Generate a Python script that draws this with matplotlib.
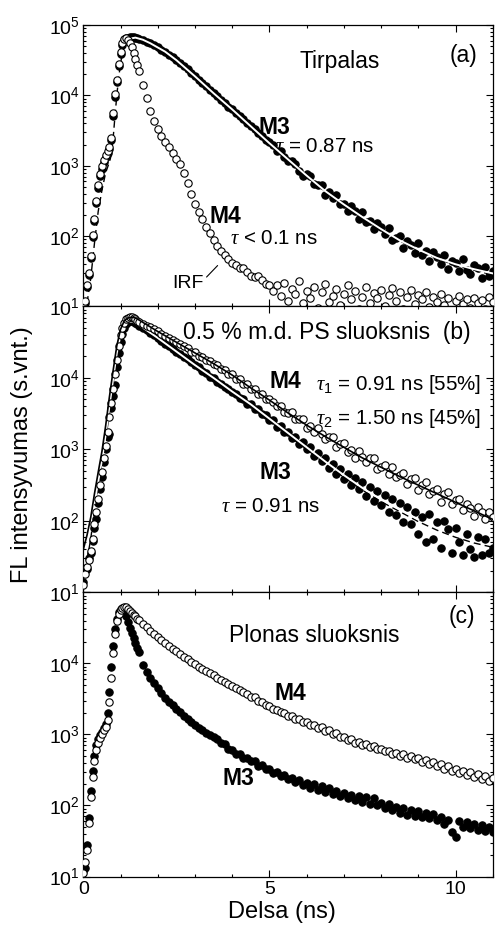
import numpy as np
import matplotlib
matplotlib.use("Agg")
import matplotlib.pyplot as plt
from matplotlib.ticker import FixedLocator, LogLocator, NullFormatter, MultipleLocator

plt.rcParams['font.family'] = ['Liberation Sans', 'DejaVu Sans']
plt.rcParams['mathtext.fontset'] = 'custom'
plt.rcParams['mathtext.rm'] = 'Liberation Sans'
plt.rcParams['mathtext.it'] = 'Liberation Serif:italic'
plt.rcParams['mathtext.bf'] = 'Liberation Sans:bold'

# ---------------- time channels (ns) ----------------
t_rise = np.round(np.arange(0.0, 1.501, 0.05), 2)   # 31 channels
t_tail = np.round(np.arange(1.6, 11.001, 0.1), 1)   # 95 channels
t = np.concatenate([t_rise, t_tail])

# ---------------- data: log10(intensity) ----------------
# Panel (a) Tirpalas
a_m4_rise = [1.00, 1.08, 1.30, 1.48, 1.72, 2.02, 2.25, 2.50, 2.72, 2.88, 2.99, 3.08, 3.15, 3.21, 3.27, 3.40,
             3.75, 4.02, 4.22, 4.45, 4.62, 4.74, 4.80, 4.81, 4.79, 4.74, 4.68, 4.60, 4.52, 4.43, 4.34]
a_m4_tail = [4.14, 3.96, 3.78, 3.64, 3.52, 3.42, 3.34, 3.26, 3.18, 3.10, 3.02, 2.90, 2.76, 2.60, 2.46, 2.34,
             2.24, 2.13, 2.04, 1.95, 1.86, 1.79, 1.73, 1.68, 1.62, 1.59, 1.55, 1.55, 1.49, 1.44, 1.42, 1.43,
             1.38, 1.32, 1.30,
             1.22, 1.30, 1.15, 1.33, 1.08, 1.25, 1.18, 1.36, 1.05, 1.22, 1.12, 1.28, 0.98, 1.20, 1.32, 1.06,
             1.15, 1.25, 1.02, 1.18, 1.30, 1.10, 1.22, 0.96, 1.14, 1.27, 1.05, 1.19, 1.12, 1.24, 1.00, 1.16,
             1.26, 1.08, 1.20, 0.97, 1.13, 1.23, 1.04, 1.16, 1.10, 1.21, 0.99, 1.14, 1.06, 1.18, 1.02, 1.12,
             0.95, 1.08, 1.15, 1.03, 1.10, 0.98, 1.12, 1.05, 1.09, 0.97, 1.14, 1.06]
a_m3_rise = [0.97, 1.05, 1.27, 1.45, 1.69, 1.99, 2.22, 2.47, 2.69, 2.85, 2.96, 3.05, 3.12, 3.18, 3.24, 3.36,
             3.70, 3.98, 4.19, 4.42, 4.59, 4.71, 4.78, 4.81, 4.82, 4.83, 4.83, 4.83, 4.82, 4.81, 4.80]
a_m3_tail = [4.78, 4.76, 4.74, 4.71, 4.68, 4.65, 4.62, 4.58, 4.54, 4.50, 4.46, 4.41, 4.37, 4.32, 4.27, 4.22,
             4.18, 4.13, 4.08, 4.03, 3.99, 3.94, 3.89, 3.84, 3.80, 3.75, 3.70, 3.66, 3.60, 3.56, 3.52, 3.46,
             3.42, 3.37, 3.33,
             3.29, 3.21, 3.21, 3.13, 3.06, 3.06, 3.03, 2.93, 2.86, 2.88, 2.86, 2.74, 2.73, 2.73, 2.59, 2.62,
             2.54, 2.58, 2.45, 2.46, 2.35, 2.43, 2.36, 2.25, 2.34, 2.20, 2.21, 2.10, 2.18, 2.13, 2.03, 2.12,
             1.94, 1.97, 2.00, 1.83, 1.93, 1.88, 1.76, 1.90, 1.73, 1.79, 1.64, 1.77, 1.70, 1.61, 1.73, 1.53,
             1.65, 1.62, 1.51, 1.67, 1.52, 1.46, 1.59, 1.55, 1.41, 1.56, 1.43, 1.51]
a_fit_t = [1.2, 1.4, 1.6, 1.8, 2.0, 2.2, 2.5, 3.0, 3.5, 4.0, 4.5, 5.0, 5.5, 6.0, 6.5, 7.0, 7.5, 8.0, 8.5,
           9.0, 9.5, 10.0, 10.5, 11.0]
a_fit_m3 = [4.80, 4.82, 4.79, 4.74, 4.68, 4.62, 4.50, 4.27, 4.03, 3.80, 3.56, 3.32, 3.09, 2.86, 2.64, 2.45,
            2.27, 2.10, 1.94, 1.81, 1.69, 1.60, 1.53, 1.47]
a_dash_t = [0.0, 0.1, 0.2, 0.3, 0.4, 0.5, 0.6, 0.7, 0.75, 0.8, 0.85, 0.9, 0.95, 1.0, 1.05, 1.1, 1.2, 1.3,
            1.6, 2.0, 2.5, 3.0, 4.0, 5.0, 6.0, 7.0, 8.0, 9.0, 10.0, 11.0]
a_dash = [0.90, 1.05, 1.40, 1.90, 2.35, 2.65, 2.90, 3.05, 3.15, 3.38, 3.70, 4.00, 4.25, 4.45, 4.60, 4.70,
          4.79, 4.81, 4.77, 4.66, 4.48, 4.25, 3.78, 3.30, 2.84, 2.43, 2.08, 1.79, 1.58, 1.45]

# Panel (b) 0.5 % m.d. PS sluoksnis
b_m4_rise = [1.10, 1.25, 1.35, 1.45, 1.58, 1.75, 1.95, 2.12, 2.30, 2.50, 2.68, 2.88, 3.05, 3.25, 3.45, 3.65,
             3.85, 4.05, 4.25, 4.45, 4.60, 4.70, 4.77, 4.82, 4.84, 4.85, 4.85, 4.84, 4.82, 4.80, 4.78]
b_m4_tail = [4.76, 4.73, 4.71, 4.68, 4.65, 4.62, 4.59, 4.56, 4.53, 4.50, 4.47, 4.44, 4.42, 4.37, 4.36, 4.31,
             4.30, 4.25, 4.24, 4.19, 4.18, 4.13, 4.11, 4.06, 4.05, 3.99, 3.98, 3.92, 3.92, 3.85, 3.85, 3.77,
             3.78, 3.70, 3.71,
             3.67, 3.61, 3.61, 3.52, 3.51, 3.52, 3.42, 3.42, 3.43, 3.30, 3.33, 3.25, 3.30, 3.21, 3.14, 3.18,
             3.17, 3.04, 3.07, 3.09, 2.97, 2.99, 2.88, 2.98, 2.89, 2.82, 2.88, 2.88, 2.72, 2.75, 2.78, 2.65,
             2.76, 2.62, 2.64, 2.67, 2.51, 2.59, 2.60, 2.43, 2.50, 2.54, 2.37, 2.42, 2.45, 2.27, 2.38, 2.40,
             2.24, 2.29, 2.31, 2.15, 2.24, 2.18, 2.07, 2.20, 2.13, 2.02, 2.12, 2.05]
b_m3_rise = [1.15, 1.30, 1.32, 1.48, 1.55, 1.72, 1.90, 2.02, 2.25, 2.45, 2.62, 2.82, 3.00, 3.18, 3.22, 3.58,
             3.75, 3.90, 4.15, 4.35, 4.50, 4.62, 4.70, 4.75, 4.78, 4.79, 4.80, 4.79, 4.77, 4.75, 4.72]
b_m3_tail = [4.70, 4.67, 4.63, 4.60, 4.56, 4.52, 4.48, 4.44, 4.41, 4.37, 4.33, 4.29, 4.26, 4.22, 4.18, 4.15,
             4.10, 4.07, 4.02, 4.00, 3.95, 3.92, 3.88, 3.85, 3.80, 3.78, 3.72, 3.71, 3.64, 3.64, 3.57, 3.56,
             3.49, 3.48, 3.41, 3.41, 3.32, 3.33, 3.24, 3.25, 3.16, 3.18, 3.08, 3.10, 3.00, 3.03, 2.91, 2.95,
             2.84, 2.88, 2.74, 2.80, 2.66, 2.73, 2.58, 2.66, 2.50, 2.60, 2.44, 2.55, 2.35, 2.48, 2.28, 2.42,
             2.22, 2.36, 2.12, 2.30, 2.08, 2.25, 1.98, 2.20, 1.95, 2.12, 1.82, 2.05, 1.70, 2.10, 1.75, 1.98,
             1.62, 2.00, 1.88, 1.55, 1.90, 1.70, 1.52, 1.82, 1.60, 1.50, 1.78, 1.52, 1.74, 1.55, 1.62]
b_fit_t = [0.0, 0.1, 0.2, 0.3, 0.4, 0.5, 0.6, 0.7, 0.8, 0.9, 1.0, 1.1, 1.2, 1.3, 1.4, 1.5,
           2.0, 2.5, 3.0, 3.5, 4.0, 4.5, 5.0, 5.5, 6.0, 6.5, 7.0, 7.5, 8.0, 8.5, 9.0, 9.5, 10.0, 10.5, 11.0]
b_fit_m4 = [1.60, 1.80, 2.05, 2.38, 2.68, 2.97, 3.33, 3.73, 4.10, 4.45, 4.68, 4.80, 4.84, 4.85, 4.84, 4.81,
            4.65, 4.50, 4.35, 4.20, 4.04, 3.86, 3.69, 3.51, 3.34, 3.18, 3.03, 2.88, 2.75, 2.62, 2.50, 2.38,
            2.26, 2.14, 2.02]
b_dash_m3 = [1.30, 1.45, 1.75, 2.15, 2.50, 2.80, 3.12, 3.52, 3.92, 4.30, 4.58, 4.72, 4.77, 4.78, 4.77, 4.74,
             4.53, 4.34, 4.15, 3.97, 3.78, 3.60, 3.40, 3.20, 3.00, 2.80, 2.61, 2.43, 2.27, 2.13, 1.99, 1.87,
             1.77, 1.69, 1.63]
b_white_t = [0.3, 0.4, 0.5, 0.6, 0.7, 0.8, 0.9, 1.0, 1.1, 1.2, 1.3, 1.4, 1.5,
             2.0, 2.5, 3.0, 3.5, 4.0, 4.5, 5.0, 5.5, 6.0, 6.5, 7.0, 7.5, 8.0, 8.5, 9.0]
b_white_m3 = [2.25, 2.55, 2.85, 3.20, 3.60, 3.98, 4.35, 4.60, 4.74, 4.78, 4.79, 4.77, 4.74,
              4.56, 4.37, 4.18, 4.00, 3.81, 3.63, 3.43, 3.23, 3.03, 2.83, 2.64, 2.46, 2.30, 2.16, 2.02]

# Panel (c) Plonas sluoksnis
c_m3_rise = [1.08, 1.12, 1.45, 1.82, 2.20, 2.48, 2.70, 2.85, 2.93, 2.99, 3.04, 3.09, 3.14, 3.30, 3.60, 3.95,
             4.25, 4.48, 4.63, 4.72, 4.76, 4.77, 4.74, 4.67, 4.58, 4.50, 4.43, 4.36, 4.29, 4.22, 4.16]
c_m3_tail = [3.98, 3.88, 3.80, 3.72, 3.65, 3.58, 3.51, 3.46, 3.41, 3.36, 3.31, 3.26, 3.22, 3.18, 3.13, 3.09,
             3.06, 3.02, 2.99, 2.97, 2.94, 2.88, 2.86, 2.80, 2.78, 2.73, 2.72, 2.67, 2.67, 2.62, 2.62, 2.56,
             2.57, 2.51, 2.52, 2.46, 2.47, 2.41, 2.43, 2.37, 2.39, 2.33, 2.36, 2.29, 2.32, 2.25, 2.30, 2.22,
             2.27, 2.19, 2.24, 2.16, 2.21, 2.13, 2.18, 2.11, 2.15, 2.08, 2.13, 2.05, 2.12, 2.02, 2.10, 2.00,
             2.04, 1.97, 2.02, 1.93, 1.98, 1.90, 1.96, 1.87, 1.94, 1.85, 1.92, 1.84, 1.90, 1.82, 1.88, 1.79,
             1.84, 1.74, 1.80, 1.62, 1.55, 1.78, 1.70, 1.77, 1.68, 1.74, 1.66, 1.72, 1.64, 1.70, 1.62]
c_m4_rise = [1.05, 1.20, 1.38, 1.75, 2.12, 2.40, 2.62, 2.78, 2.88, 2.95, 3.00, 3.06, 3.11, 3.20, 3.45, 3.80,
             4.15, 4.42, 4.60, 4.70, 4.75, 4.78, 4.79, 4.79, 4.77, 4.74, 4.71, 4.68, 4.66, 4.63, 4.61]
c_m4_tail = [4.56, 4.51, 4.46, 4.41, 4.37, 4.33, 4.28, 4.24, 4.20, 4.17, 4.13, 4.09, 4.06, 4.02, 3.99, 3.95,
             3.92, 3.89, 3.86, 3.83, 3.80, 3.77, 3.74, 3.71, 3.68, 3.65, 3.62, 3.59, 3.57, 3.53, 3.52, 3.47,
             3.46, 3.41, 3.40, 3.36, 3.35, 3.31, 3.30, 3.26, 3.26, 3.22, 3.22, 3.17, 3.17, 3.13, 3.13, 3.09,
             3.10, 3.05, 3.06, 3.01, 3.02, 2.97, 2.97, 2.92, 2.93, 2.88, 2.90, 2.85, 2.87, 2.82, 2.84, 2.79,
             2.80, 2.76, 2.77, 2.72, 2.74, 2.70, 2.72, 2.67, 2.70, 2.65, 2.67, 2.61, 2.64, 2.58, 2.61, 2.55,
             2.58, 2.52, 2.55, 2.49, 2.52, 2.46, 2.49, 2.43, 2.47, 2.40, 2.44, 2.37, 2.41, 2.34, 2.38]

x_ticks = [0, 5, 10]
y_ticks = [1e1, 1e2, 1e3, 1e4, 1e5]
y_tick_labels = [r'$\mathregular{10^{1}}$', r'$\mathregular{10^{2}}$', r'$\mathregular{10^{3}}$',
                 r'$\mathregular{10^{4}}$', r'$\mathregular{10^{5}}$']


def lin(v):
    return 10.0 ** np.asarray(v)


def points(ax, rise, tail, filled, z):
    ax.plot(t, lin(rise + tail), linestyle='none', marker='o', ms=5.3,
            mfc='black' if filled else 'white', mec='black', mew=0.8, zorder=z)


def style(ax, show_top_label, show_x_labels):
    ax.set_yscale('log')
    ax.set_xlim(0, 11)
    ax.set_ylim(10, 1e5)
    ax.xaxis.set_major_locator(FixedLocator(x_ticks))
    ax.xaxis.set_minor_locator(MultipleLocator(1))
    ax.yaxis.set_major_locator(FixedLocator(y_ticks))
    ax.yaxis.set_minor_locator(LogLocator(base=10, subs=np.arange(2, 10)))
    ax.yaxis.set_minor_formatter(NullFormatter())
    labels = list(y_tick_labels)
    if not show_top_label:
        labels[-1] = ''
    ax.set_yticklabels(labels)
    if show_x_labels:
        ax.set_xticklabels([str(v) for v in x_ticks])
    else:
        ax.set_xticklabels([])
    ax.tick_params(which='both', direction='in', top=True, right=True, labelsize=14, width=0.8)
    ax.tick_params(which='major', length=5)
    ax.tick_params(which='minor', length=2.5)
    ax.tick_params(axis='y', pad=2.5)
    ax.tick_params(axis='x', pad=3.5)
    for s in ax.spines.values():
        s.set_linewidth(0.9)


fig = plt.figure(figsize=(4.95, 9.31), dpi=100)
L, W = 0.1683, 0.8271
ax_a = fig.add_axes([L, 0.6708, W, 0.3024])
ax_b = fig.add_axes([L, 0.3638, W, 0.3070])
ax_c = fig.add_axes([L, 0.0585, W, 0.3053])

FS = 16.5
FT = 14.8

# ---- panel (a)
points(ax_a, a_m3_rise, a_m3_tail, True, 2)
ax_a.plot(a_dash_t, lin(a_dash), color='black', lw=1.0, ls=(0, (5, 3)), zorder=3)
ax_a.plot(a_fit_t, lin(a_fit_m3), color='white', lw=1.4, zorder=3.5)
points(ax_a, a_m4_rise, a_m4_tail, False, 4)
style(ax_a, True, False)
ax_a.text(5.81, 10 ** 4.48, 'Tirpalas', fontsize=FS, va='center', ha='left')
ax_a.text(10.58, 10 ** 4.56, '(a)', fontsize=FS, va='center', ha='right')
ax_a.text(4.71, 10 ** 3.54, 'M3', fontsize=FS, fontweight='bold', va='center', ha='left')
ax_a.text(5.14, 10 ** 3.27, r'$\tau$ = 0.87 ns', fontsize=FT, va='center', ha='left')
ax_a.text(3.39, 10 ** 2.28, 'M4', fontsize=FS, fontweight='bold', va='center', ha='left')
ax_a.text(3.93, 10 ** 1.96, r'$\tau$ < 0.1 ns', fontsize=FT, va='center', ha='left')
ax_a.text(2.40, 10 ** 1.32, 'IRF', fontsize=14, va='center', ha='left')
ax_a.annotate('', xy=(3.66, 10 ** 1.61), xytext=(3.26, 10 ** 1.39),
              arrowprops=dict(arrowstyle='-', color='black', lw=0.8), zorder=6)

# ---- panel (b)
points(ax_b, b_m3_rise, b_m3_tail, True, 2)
ax_b.plot(b_fit_t, lin(b_dash_m3), color='black', lw=1.0, ls=(0, (5, 3)), zorder=3)
ax_b.plot(b_white_t, lin(b_white_m3), color='white', lw=1.4, zorder=3.5)
points(ax_b, b_m4_rise, b_m4_tail, False, 4)
ax_b.plot(b_fit_t, lin(b_fit_m4), color='black', lw=1.2, zorder=5)
style(ax_b, False, False)
ax_b.text(2.68, 10 ** 4.63, '0.5 % m.d. PS sluoksnis  (b)', fontsize=FS, va='center', ha='left')
ax_b.text(5.00, 10 ** 3.95, 'M4', fontsize=FS, fontweight='bold', va='center', ha='left')
ax_b.text(6.25, 10 ** 3.91, r'$\tau_1$ = 0.91 ns [55%]', fontsize=FT, va='center', ha='left')
ax_b.text(6.25, 10 ** 3.43, r'$\tau_2$ = 1.50 ns [45%]', fontsize=FT, va='center', ha='left')
ax_b.text(4.73, 10 ** 2.68, 'M3', fontsize=FS, fontweight='bold', va='center', ha='left')
ax_b.text(3.71, 10 ** 2.20, r'$\tau$ = 0.91 ns', fontsize=FT, va='center', ha='left')

# ---- panel (c)
points(ax_c, c_m3_rise, c_m3_tail, True, 2)
points(ax_c, c_m4_rise, c_m4_tail, False, 3)
style(ax_c, False, True)
ax_c.text(10.54, 10 ** 4.66, '(c)', fontsize=FS, va='center', ha='right')
ax_c.text(3.91, 10 ** 4.39, 'Plonas sluoksnis', fontsize=FS, va='center', ha='left')
ax_c.text(5.13, 10 ** 3.58, 'M4', fontsize=FS, fontweight='bold', va='center', ha='left')
ax_c.text(3.75, 10 ** 2.38, 'M3', fontsize=FS, fontweight='bold', va='center', ha='left')

fig.text(282 / 495, 1 - 912 / 931, 'Delsa (ns)', fontsize=17, ha='center', va='center')
fig.text(22 / 495, 1 - 455 / 931, 'FL intensyvumas (s.vnt.)', fontsize=17, rotation=90,
         ha='center', va='center')

fig.savefig('out.png', dpi=100)
